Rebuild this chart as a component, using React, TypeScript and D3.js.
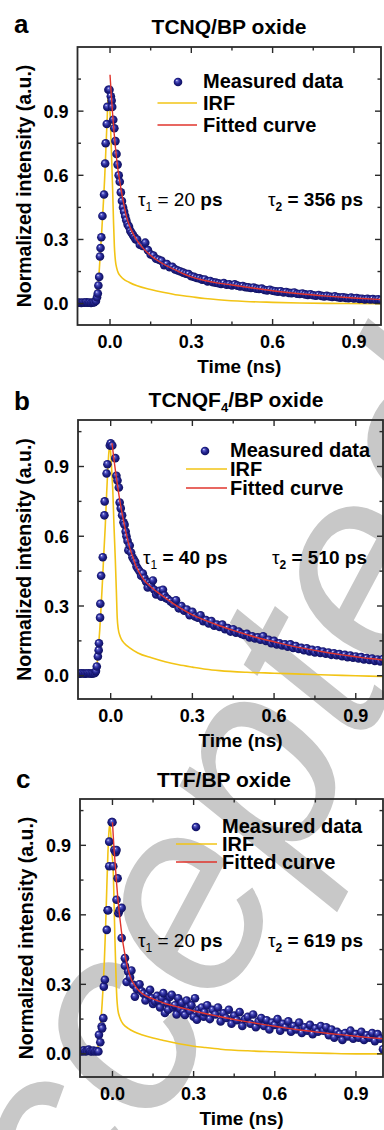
import React from "react";
import * as d3 from "d3";

type Pt = [number, number];

// ---------- shared axis / legend text ----------
const xTicksMajor = [0, 0.3, 0.6, 0.9];
const xTicksMinor = [0.15, 0.45, 0.75];
const yTicksMajor = [0, 0.3, 0.6, 0.9];
const yTicksMinor = [0.15, 0.45, 0.75, 1.05];
const legendLabels = ["Measured data", "IRF", "Fitted curve"];
const xAxisTitle = "Time (ns)";
const yAxisTitle = "Normalized intensity (a.u.)";
const watermarkText = "Accepted";

// ---------- panel a : TCNQ/BP oxide ----------
const aMeasured: Pt[] = [
  [-0.118, 0.004], [-0.112, 0.005], [-0.106, 0.003], [-0.1, 0.005], [-0.094, 0.004], [-0.088, 0.006],
  [-0.082, 0.004], [-0.076, 0.005], [-0.07, 0.003], [-0.064, 0.005], [-0.058, 0.006], [-0.052, 0.012],
  [-0.048, 0.03], [-0.045, 0.047], [-0.043, 0.085], [-0.04, 0.125], [-0.037, 0.22], [-0.035, 0.26],
  [-0.032, 0.31], [-0.028, 0.41], [-0.022, 0.51], [-0.018, 0.655], [-0.016, 0.75], [-0.012, 0.84],
  [-0.01, 0.92], [-0.006, 1.0], [-0.002, 1.0], [0.003, 0.97], [0.006, 0.95], [0.008, 0.92],
  [0.012, 0.86], [0.016, 0.82], [0.02, 0.76], [0.024, 0.7], [0.028, 0.65], [0.032, 0.6],
  [0.036, 0.57], [0.04, 0.52], [0.044, 0.48], [0.048, 0.45], [0.052, 0.43], [0.056, 0.41],
  [0.06, 0.39], [0.065, 0.37], [0.07, 0.36], [0.075, 0.34], [0.08, 0.33], [0.085, 0.32],
  [0.09, 0.31], [0.095, 0.3], [0.1, 0.3], [0.11, 0.275], [0.12, 0.27], [0.13, 0.285],
  [0.14, 0.25], [0.15, 0.23], [0.16, 0.225], [0.17, 0.21], [0.18, 0.205], [0.19, 0.2],
  [0.2, 0.18], [0.21, 0.185], [0.22, 0.17], [0.23, 0.172], [0.24, 0.16], [0.25, 0.155],
  [0.26, 0.15], [0.27, 0.145], [0.28, 0.14], [0.29, 0.138], [0.3, 0.128], [0.31, 0.125],
  [0.32, 0.12], [0.33, 0.118], [0.34, 0.112], [0.35, 0.113], [0.36, 0.104], [0.37, 0.106],
  [0.38, 0.1], [0.39, 0.098], [0.4, 0.095], [0.41, 0.092], [0.42, 0.096], [0.43, 0.088],
  [0.44, 0.09], [0.45, 0.085], [0.46, 0.09], [0.47, 0.084], [0.48, 0.08], [0.49, 0.082],
  [0.5, 0.077], [0.51, 0.076], [0.52, 0.073], [0.53, 0.075], [0.54, 0.07], [0.55, 0.068],
  [0.56, 0.07], [0.57, 0.064], [0.58, 0.062], [0.59, 0.065], [0.6, 0.06], [0.61, 0.058],
  [0.62, 0.056], [0.63, 0.058], [0.64, 0.052], [0.65, 0.054], [0.66, 0.05], [0.67, 0.049],
  [0.68, 0.052], [0.69, 0.046], [0.7, 0.045], [0.71, 0.047], [0.72, 0.043], [0.73, 0.041],
  [0.74, 0.044], [0.75, 0.039], [0.76, 0.037], [0.77, 0.04], [0.78, 0.036], [0.79, 0.034],
  [0.8, 0.036], [0.81, 0.033], [0.82, 0.031], [0.83, 0.034], [0.84, 0.03], [0.85, 0.028],
  [0.86, 0.03], [0.87, 0.027], [0.88, 0.025], [0.89, 0.028], [0.9, 0.024], [0.91, 0.026],
  [0.92, 0.022], [0.93, 0.023], [0.94, 0.02], [0.95, 0.022], [0.96, 0.019], [0.97, 0.021],
  [0.98, 0.018], [0.99, 0.02], [1.0, 0.017],
];
const aIrf: Pt[] = [
  [-0.12, 0.0], [-0.06, 0.0], [-0.055, 0.01], [-0.05, 0.04], [-0.045, 0.08], [-0.04, 0.15],
  [-0.035, 0.25], [-0.03, 0.35], [-0.025, 0.46], [-0.02, 0.58], [-0.015, 0.73], [-0.01, 0.88],
  [-0.007, 0.97], [-0.004, 0.99], [-0.001, 0.93], [0.002, 0.83], [0.006, 0.68], [0.01, 0.52],
  [0.013, 0.38], [0.016, 0.27], [0.02, 0.2], [0.025, 0.165], [0.03, 0.145], [0.04, 0.127],
  [0.05, 0.115], [0.07, 0.1], [0.1, 0.083], [0.15, 0.066], [0.2, 0.052], [0.25, 0.04],
  [0.3, 0.032], [0.35, 0.024], [0.4, 0.018], [0.5, 0.01], [0.6, 0.006], [0.7, 0.003],
  [0.8, 0.001], [1.0, 0.0],
];
const aFit: Pt[] = [
  [0.0, 1.07], [0.005, 0.97], [0.01, 0.88], [0.015, 0.8], [0.02, 0.73], [0.03, 0.62],
  [0.04, 0.54], [0.05, 0.47], [0.06, 0.41], [0.07, 0.37], [0.08, 0.34], [0.1, 0.295],
  [0.12, 0.262], [0.15, 0.225], [0.2, 0.183], [0.25, 0.152], [0.3, 0.125], [0.35, 0.108],
  [0.4, 0.096], [0.45, 0.087], [0.5, 0.078], [0.6, 0.06], [0.7, 0.046], [0.8, 0.035],
  [0.9, 0.026], [1.0, 0.019],
];

// ---------- panel b : TCNQF4/BP oxide ----------
const bMeasured: Pt[] = [
  [-0.118, 0.01], [-0.112, 0.009], [-0.106, 0.011], [-0.1, 0.01], [-0.094, 0.009], [-0.088, 0.01],
  [-0.082, 0.011], [-0.076, 0.01], [-0.07, 0.009], [-0.064, 0.01], [-0.058, 0.012], [-0.054, 0.02],
  [-0.051, 0.04], [-0.047, 0.083], [-0.044, 0.11], [-0.043, 0.14], [-0.039, 0.25], [-0.038, 0.31],
  [-0.035, 0.43], [-0.029, 0.51], [-0.023, 0.69], [-0.022, 0.75], [-0.015, 0.87], [-0.012, 0.91],
  [-0.003, 0.99], [0.0, 1.0], [0.006, 0.99], [0.017, 0.936], [0.021, 0.86], [0.025, 0.84],
  [0.03, 0.81], [0.033, 0.745], [0.037, 0.72], [0.042, 0.69], [0.047, 0.66], [0.051, 0.65],
  [0.055, 0.62], [0.058, 0.6], [0.062, 0.58], [0.065, 0.54], [0.07, 0.56], [0.075, 0.53],
  [0.08, 0.51], [0.085, 0.5], [0.09, 0.49], [0.095, 0.47], [0.1, 0.46], [0.106, 0.45],
  [0.112, 0.43], [0.118, 0.44], [0.124, 0.42], [0.13, 0.405], [0.136, 0.38], [0.142, 0.4],
  [0.148, 0.39], [0.155, 0.41], [0.16, 0.37], [0.167, 0.35], [0.174, 0.36], [0.18, 0.365],
  [0.186, 0.34], [0.192, 0.37], [0.198, 0.345], [0.204, 0.334], [0.21, 0.33], [0.22, 0.32],
  [0.23, 0.31], [0.24, 0.325], [0.25, 0.29], [0.26, 0.3], [0.27, 0.28], [0.28, 0.285],
  [0.29, 0.26], [0.3, 0.275], [0.31, 0.255], [0.32, 0.25], [0.33, 0.26], [0.34, 0.235],
  [0.35, 0.24], [0.36, 0.225], [0.37, 0.235], [0.38, 0.215], [0.39, 0.22], [0.4, 0.21],
  [0.41, 0.22], [0.42, 0.2], [0.43, 0.205], [0.44, 0.19], [0.45, 0.2], [0.46, 0.185],
  [0.47, 0.19], [0.48, 0.18], [0.49, 0.175], [0.5, 0.18], [0.51, 0.165], [0.52, 0.17],
  [0.53, 0.16], [0.54, 0.165], [0.55, 0.155], [0.56, 0.17], [0.57, 0.15], [0.58, 0.155],
  [0.59, 0.14], [0.6, 0.15], [0.61, 0.135], [0.62, 0.14], [0.63, 0.13], [0.64, 0.135],
  [0.65, 0.125], [0.66, 0.135], [0.67, 0.12], [0.68, 0.128], [0.69, 0.115], [0.7, 0.12],
  [0.71, 0.11], [0.72, 0.118], [0.73, 0.105], [0.74, 0.112], [0.75, 0.1], [0.76, 0.11],
  [0.77, 0.098], [0.78, 0.104], [0.79, 0.095], [0.8, 0.1], [0.81, 0.09], [0.82, 0.097],
  [0.83, 0.088], [0.84, 0.093], [0.85, 0.084], [0.86, 0.09], [0.87, 0.08], [0.88, 0.087],
  [0.89, 0.078], [0.9, 0.083], [0.91, 0.074], [0.92, 0.08], [0.93, 0.07], [0.94, 0.076],
  [0.95, 0.068], [0.96, 0.074], [0.97, 0.064], [0.98, 0.07], [0.99, 0.062], [1.0, 0.072],
];
const bIrf: Pt[] = [
  [-0.12, 0.0], [-0.06, 0.0], [-0.055, 0.01], [-0.05, 0.05], [-0.045, 0.12], [-0.04, 0.2],
  [-0.035, 0.3], [-0.03, 0.41], [-0.025, 0.53], [-0.02, 0.64], [-0.015, 0.78], [-0.01, 0.9],
  [-0.006, 0.97], [-0.003, 0.99], [0.0, 0.96], [0.004, 0.88], [0.008, 0.79], [0.012, 0.65],
  [0.017, 0.5], [0.021, 0.36], [0.024, 0.25], [0.028, 0.2], [0.033, 0.175], [0.04, 0.155],
  [0.05, 0.14], [0.07, 0.12], [0.1, 0.098], [0.15, 0.077], [0.2, 0.06], [0.25, 0.047],
  [0.3, 0.037], [0.35, 0.028], [0.4, 0.022], [0.5, 0.015], [0.6, 0.011], [0.7, 0.007],
  [0.8, 0.003], [0.9, 0.0], [1.0, -0.003],
];
const bFit: Pt[] = [
  [0.005, 1.0], [0.01, 0.95], [0.02, 0.86], [0.03, 0.78], [0.04, 0.71], [0.05, 0.65],
  [0.06, 0.595], [0.07, 0.55], [0.08, 0.515], [0.09, 0.48], [0.1, 0.455], [0.12, 0.415],
  [0.15, 0.38], [0.18, 0.352], [0.2, 0.335], [0.25, 0.295], [0.3, 0.262], [0.35, 0.237],
  [0.4, 0.215], [0.45, 0.195], [0.5, 0.177], [0.55, 0.16], [0.6, 0.146], [0.65, 0.132],
  [0.7, 0.12], [0.75, 0.109], [0.8, 0.099], [0.85, 0.09], [0.9, 0.082], [0.95, 0.074],
  [1.0, 0.068],
];

// ---------- panel c : TTF/BP oxide ----------
const cMeasured: Pt[] = [
  [-0.118, 0.012], [-0.112, 0.01], [-0.106, 0.015], [-0.1, 0.01], [-0.094, 0.012], [-0.088, 0.018],
  [-0.082, 0.011], [-0.076, 0.01], [-0.07, 0.014], [-0.064, 0.01], [-0.058, 0.012], [-0.052, 0.01],
  [-0.05, 0.082], [-0.045, 0.05], [-0.04, 0.118], [-0.038, 0.11], [-0.034, 0.154], [-0.032, 0.29],
  [-0.028, 0.32], [-0.021, 0.535], [-0.018, 0.62], [-0.016, 0.62], [-0.012, 0.81], [-0.012, 0.916],
  [-0.003, 1.0], [0.0, 1.0], [0.003, 0.81], [0.007, 0.88], [0.012, 0.87], [0.015, 0.88],
  [0.019, 0.758], [0.015, 0.665], [0.022, 0.607], [0.026, 0.62], [0.034, 0.63], [0.034, 0.5],
  [0.046, 0.413], [0.046, 0.38], [0.052, 0.31], [0.058, 0.355], [0.065, 0.33], [0.07, 0.36],
  [0.077, 0.298], [0.083, 0.247], [0.09, 0.28], [0.1, 0.3], [0.108, 0.27], [0.115, 0.26],
  [0.122, 0.23], [0.13, 0.255], [0.139, 0.276], [0.145, 0.24], [0.15, 0.215], [0.157, 0.226],
  [0.165, 0.25], [0.17, 0.23], [0.176, 0.2], [0.182, 0.24], [0.188, 0.262], [0.194, 0.176],
  [0.2, 0.22], [0.206, 0.19], [0.212, 0.245], [0.219, 0.255], [0.225, 0.2], [0.231, 0.21],
  [0.237, 0.17], [0.243, 0.24], [0.25, 0.195], [0.256, 0.22], [0.262, 0.18], [0.268, 0.168],
  [0.274, 0.23], [0.28, 0.2], [0.286, 0.185], [0.292, 0.21], [0.3, 0.16], [0.305, 0.24],
  [0.312, 0.147], [0.318, 0.19], [0.325, 0.175], [0.33, 0.2], [0.337, 0.16], [0.34, 0.18],
  [0.35, 0.21], [0.36, 0.15], [0.37, 0.19], [0.38, 0.17], [0.39, 0.2], [0.4, 0.14],
  [0.41, 0.175], [0.42, 0.155], [0.43, 0.19], [0.44, 0.13], [0.45, 0.165], [0.46, 0.145],
  [0.47, 0.18], [0.48, 0.12], [0.49, 0.15], [0.5, 0.16], [0.51, 0.13], [0.52, 0.17],
  [0.53, 0.115], [0.54, 0.14], [0.55, 0.155], [0.56, 0.12], [0.57, 0.145], [0.58, 0.105],
  [0.59, 0.135], [0.6, 0.125], [0.61, 0.15], [0.62, 0.1], [0.63, 0.13], [0.64, 0.115],
  [0.65, 0.14], [0.66, 0.095], [0.67, 0.12], [0.68, 0.105], [0.69, 0.135], [0.7, 0.09],
  [0.71, 0.115], [0.72, 0.1], [0.73, 0.125], [0.74, 0.085], [0.75, 0.11], [0.76, 0.095],
  [0.77, 0.12], [0.78, 0.1], [0.79, 0.115], [0.8, 0.08], [0.81, 0.105], [0.82, 0.07],
  [0.83, 0.095], [0.84, 0.085], [0.85, 0.06], [0.86, 0.09], [0.87, 0.075], [0.88, 0.1],
  [0.89, 0.065], [0.9, 0.085], [0.91, 0.07], [0.92, 0.095], [0.93, 0.06], [0.94, 0.08],
  [0.95, 0.07], [0.96, 0.09], [0.97, 0.055], [0.98, 0.085], [0.99, 0.065], [1.0, 0.02],
];
const cIrf: Pt[] = [
  [-0.12, 0.0], [-0.062, 0.0], [-0.058, 0.01], [-0.052, 0.04], [-0.048, 0.08], [-0.043, 0.14],
  [-0.038, 0.22], [-0.034, 0.3], [-0.03, 0.4], [-0.025, 0.56], [-0.021, 0.715], [-0.017, 0.86],
  [-0.013, 0.96], [-0.01, 0.99], [-0.006, 0.95], [-0.002, 0.87], [0.003, 0.787], [0.006, 0.65],
  [0.009, 0.5], [0.012, 0.38], [0.015, 0.27], [0.02, 0.19], [0.028, 0.154], [0.04, 0.128],
  [0.058, 0.11], [0.08, 0.095], [0.108, 0.082], [0.15, 0.068], [0.182, 0.06], [0.22, 0.05],
  [0.268, 0.039], [0.3, 0.033], [0.343, 0.027], [0.4, 0.02], [0.5, 0.013], [0.6, 0.009],
  [0.7, 0.005], [0.8, 0.002], [0.9, 0.0], [1.0, 0.0],
];
const cFit: Pt[] = [
  [0.0, 1.0], [0.005, 0.9], [0.01, 0.82], [0.015, 0.74], [0.02, 0.67], [0.03, 0.56],
  [0.04, 0.47], [0.05, 0.405], [0.06, 0.355], [0.07, 0.32], [0.08, 0.3], [0.1, 0.27],
  [0.12, 0.252], [0.15, 0.237], [0.2, 0.215], [0.25, 0.2], [0.3, 0.185], [0.35, 0.172],
  [0.4, 0.16], [0.45, 0.148], [0.5, 0.138], [0.55, 0.128], [0.6, 0.119], [0.65, 0.11],
  [0.7, 0.102], [0.75, 0.095], [0.8, 0.088], [0.85, 0.082], [0.9, 0.076], [0.95, 0.07],
  [1.0, 0.065],
];

// ---------- layout ----------
const FONT = "'Liberation Sans', Arial, Helvetica, sans-serif";
const IRF_COLOR = "#f2c416";
const FIT_COLOR = "#e0342c";

interface PanelCfg {
  id: string;
  letter: string;
  titleMain: string;
  titleSub?: string;
  titleRest?: string;
  measured: Pt[];
  irf: Pt[];
  fit: Pt[];
  tau1: string;
  tau1Bold: boolean;
  tau2: string;
  xDomain: [number, number];
  yDomain: [number, number];
  frame: { l: number; t: number; r: number; b: number };
  titleX: number;
  titleY: number;
  letterX: number;
  letterY: number;
  legend: { markerX: number; lineX0: number; lineX1: number; textX: number; y0: number; dy: number };
  tauY: number;
  tau1X: number;
  tau2X: number;
}

const panels: PanelCfg[] = [
  {
    id: "a", letter: "a", titleMain: "TCNQ/BP oxide",
    measured: aMeasured, irf: aIrf, fit: aFit, tau1: "20", tau1Bold: false, tau2: "356",
    xDomain: [-0.12, 1.0], yDomain: [-0.1, 1.2],
    frame: { l: 77.5, t: 47, r: 381, b: 325 },
    titleX: 229, titleY: 34, letterX: 14, letterY: 33,
    legend: { markerX: 178, lineX0: 157.5, lineX1: 197, textX: 203, y0: 88, dy: 22 },
    tauY: 206, tau1X: 138, tau2X: 268,
  },
  {
    id: "b", letter: "b", titleMain: "TCNQF", titleSub: "4", titleRest: "/BP oxide",
    measured: bMeasured, irf: bIrf, fit: bFit, tau1: "40", tau1Bold: true, tau2: "510",
    xDomain: [-0.12, 1.0], yDomain: [-0.1, 1.1],
    frame: { l: 78, t: 420, r: 383, b: 699 },
    titleX: 236, titleY: 407, letterX: 14, letterY: 410,
    legend: { markerX: 205, lineX0: 186, lineX1: 227, textX: 230, y0: 457, dy: 19 },
    tauY: 564, tau1X: 143, tau2X: 272,
  },
  {
    id: "c", letter: "c", titleMain: "TTF/BP oxide",
    measured: cMeasured, irf: cIrf, fit: cFit, tau1: "20", tau1Bold: false, tau2: "619",
    xDomain: [-0.12, 1.0], yDomain: [-0.1, 1.1],
    frame: { l: 80, t: 799, r: 383, b: 1077 },
    titleX: 224, titleY: 787, letterX: 16, letterY: 788,
    legend: { markerX: 196, lineX0: 176, lineX1: 217, textX: 222, y0: 833, dy: 18 },
    tauY: 947, tau1X: 138, tau2X: 268,
  },
];

function Ball({ cx, cy, r = 4.3 }: { cx: number; cy: number; r?: number }) {
  return <circle cx={cx} cy={cy} r={r} fill="url(#ball)" />;
}

function Panel({ cfg }: { cfg: PanelCfg }) {
  const { frame } = cfg;
  const x = d3.scaleLinear().domain(cfg.xDomain).range([frame.l, frame.r]);
  const y = d3.scaleLinear().domain(cfg.yDomain).range([frame.b, frame.t]);
  const line = d3
    .line<Pt>()
    .x((d) => x(d[0]))
    .y((d) => y(d[1]))
    .curve(d3.curveMonotoneX);
  const clipId = `clip-${cfg.id}`;
  const major = 6;
  const minor = 3.5;
  const stroke = "#2a2a2a";
  const lg = cfg.legend;
  return (
    <g>
      <defs>
        <clipPath id={clipId}>
          <rect x={frame.l} y={frame.t} width={frame.r - frame.l} height={frame.b - frame.t} />
        </clipPath>
      </defs>
      <text x={cfg.letterX} y={cfg.letterY} fontFamily={FONT} fontWeight="bold" fontSize={26}>
        {cfg.letter}
      </text>
      <text x={cfg.titleX} y={cfg.titleY} fontFamily={FONT} fontWeight="bold" fontSize={21} textAnchor="middle">
        {cfg.titleMain}
        {cfg.titleSub && (
          <tspan fontSize={13} dy={5}>
            {cfg.titleSub}
          </tspan>
        )}
        {cfg.titleRest && <tspan dy={-5}>{cfg.titleRest}</tspan>}
      </text>

      <g clipPath={`url(#${clipId})`}>
        <path d={line(cfg.irf) || ""} fill="none" stroke={IRF_COLOR} strokeWidth={1.6} />
        {cfg.measured.map((d, i) => (
          <Ball key={i} cx={x(d[0])} cy={y(d[1])} />
        ))}
        <path d={line(cfg.fit) || ""} fill="none" stroke={FIT_COLOR} strokeWidth={1.4} />
      </g>

      <rect
        x={frame.l}
        y={frame.t}
        width={frame.r - frame.l}
        height={frame.b - frame.t}
        fill="none"
        stroke={stroke}
        strokeWidth={1.8}
      />
      {xTicksMajor.concat(xTicksMinor).map((t) => {
        const len = xTicksMajor.includes(t) ? major : minor;
        return (
          <g key={`xt${t}`} stroke={stroke} strokeWidth={1.4}>
            <line x1={x(t)} x2={x(t)} y1={frame.b} y2={frame.b - len} />
            <line x1={x(t)} x2={x(t)} y1={frame.t} y2={frame.t + len} />
          </g>
        );
      })}
      {yTicksMajor.concat(yTicksMinor).map((t) => {
        const len = yTicksMajor.includes(t) ? major : minor;
        return (
          <g key={`yt${t}`} stroke={stroke} strokeWidth={1.4}>
            <line x1={frame.l} x2={frame.l + len} y1={y(t)} y2={y(t)} />
            <line x1={frame.r} x2={frame.r - len} y1={y(t)} y2={y(t)} />
          </g>
        );
      })}
      {xTicksMajor.map((t) => (
        <text
          key={`xl${t}`}
          x={x(t)}
          y={frame.b + 23}
          fontFamily={FONT}
          fontWeight="bold"
          fontSize={18}
          textAnchor="middle"
        >
          {d3.format(".1f")(t)}
        </text>
      ))}
      {yTicksMajor.map((t) => (
        <text
          key={`yl${t}`}
          x={frame.l - 9}
          y={y(t) + 6.5}
          fontFamily={FONT}
          fontWeight="bold"
          fontSize={18}
          textAnchor="end"
        >
          {d3.format(".1f")(t)}
        </text>
      ))}
      <text
        x={(frame.l + frame.r) / 2 + 10}
        y={frame.b + 48}
        fontFamily={FONT}
        fontWeight="bold"
        fontSize={19}
        textAnchor="middle"
      >
        {xAxisTitle}
      </text>
      <text
        transform={`translate(${frame.l - 47},${(frame.t + frame.b) / 2}) rotate(-90)`}
        fontFamily={FONT}
        fontWeight="bold"
        fontSize={19.5}
        textAnchor="middle"
      >
        {yAxisTitle}
      </text>

      <Ball cx={lg.markerX} cy={lg.y0 - 6} />
      <text x={lg.textX} y={lg.y0} fontFamily={FONT} fontWeight="bold" fontSize={20}>
        {legendLabels[0]}
      </text>
      <line x1={lg.lineX0} x2={lg.lineX1} y1={lg.y0 + lg.dy - 7} y2={lg.y0 + lg.dy - 7} stroke={IRF_COLOR} strokeWidth={1.6} />
      <text x={lg.textX} y={lg.y0 + lg.dy} fontFamily={FONT} fontWeight="bold" fontSize={20}>
        {legendLabels[1]}
      </text>
      <line
        x1={lg.lineX0}
        x2={lg.lineX1}
        y1={lg.y0 + 2 * lg.dy - 7}
        y2={lg.y0 + 2 * lg.dy - 7}
        stroke={FIT_COLOR}
        strokeWidth={1.6}
      />
      <text x={lg.textX} y={lg.y0 + 2 * lg.dy} fontFamily={FONT} fontWeight="bold" fontSize={20}>
        {legendLabels[2]}
      </text>

      <text x={cfg.tau1X} y={cfg.tauY} fontFamily={FONT} fontSize={19}>
        <tspan>τ</tspan>
        <tspan fontSize={12} dy={5}>1</tspan>
        <tspan dy={-5} fontWeight={cfg.tau1Bold ? "bold" : "normal"}>{` = ${cfg.tau1}`}</tspan>
        <tspan fontWeight="bold"> ps</tspan>
      </text>
      <text x={cfg.tau2X} y={cfg.tauY} fontFamily={FONT} fontSize={19}>
        <tspan>τ</tspan>
        <tspan fontSize={12} dy={5} fontWeight="bold">2</tspan>
        <tspan dy={-5} fontWeight="bold">{` = ${cfg.tau2} ps`}</tspan>
      </text>
    </g>
  );
}

export default function App() {
  return (
    <svg
      width={384}
      height={1130}
      viewBox="0 0 384 1130"
      style={{ position: "absolute", left: 0, top: 0, background: "#fff" }}
    >
      <defs>
        <radialGradient id="ball" cx="50%" cy="50%" r="55%" fx="35%" fy="30%">
          <stop offset="0%" stopColor="#eef0ff" />
          <stop offset="22%" stopColor="#5a5cc8" />
          <stop offset="55%" stopColor="#22238e" />
          <stop offset="100%" stopColor="#0b0c55" />
        </radialGradient>
      </defs>
      <rect x={0} y={0} width={384} height={1130} fill="#fff" />
      <text
        transform="translate(9,1410) rotate(-62)"
        fontFamily="'Liberation Sans', sans-serif"
        fontStyle="italic"
        fontSize={270}
        fill="#c8c8c8"
      >
        {watermarkText}
      </text>
      {panels.map((p) => (
        <Panel key={p.id} cfg={p} />
      ))}
    </svg>
  );
}
